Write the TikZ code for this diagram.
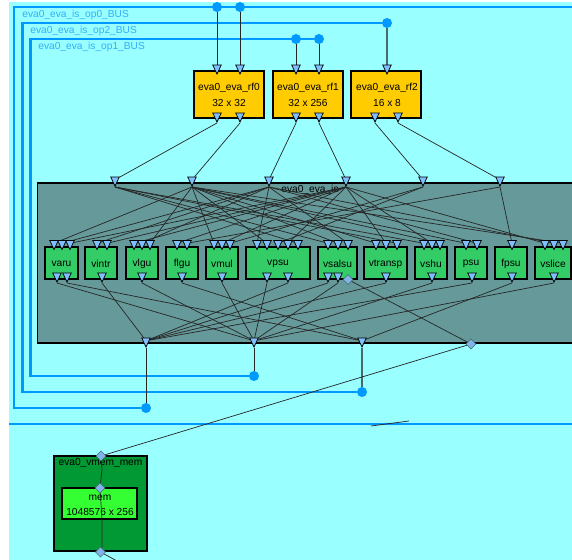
\documentclass[tikz,border=0pt]{standalone}
\usepackage{fontspec}
\setmainfont{Liberation Sans}
\usepackage{xcolor}
\usepackage{tikz}
\usetikzlibrary{arrows.meta, positioning, calc, shapes.geometric}
\definecolor{cyanbg}{HTML}{99FFFF}
\definecolor{busblue}{HTML}{0099FF}
\definecolor{isgrey}{HTML}{669999}
\definecolor{rfgold}{HTML}{FFCC00}
\definecolor{fugreen}{HTML}{33CC66}
\definecolor{memdark}{HTML}{009933}
\definecolor{memlight}{HTML}{33FF33}
\definecolor{portblue}{HTML}{80BFFF}
\pgfdeclarelayer{ports}
\pgfsetlayers{main,ports}
\tikzset{
  every node/.style={font=\fontsize{5.8}{7}\selectfont},
  bus/.style={busblue, line width=1.2pt},
  buslabel/.style={anchor=west, text=busblue!80!white, inner sep=0pt},
  tap/.style={circle, fill=busblue, inner sep=0pt, minimum size=0.2cm},
  wire/.style={black!85, line width=0.4pt},
  tealwire/.style={isgrey!70!black, line width=0.6pt},
  portdn/.style={isosceles triangle, isosceles triangle stretches, shape border rotate=-90,
    minimum width=0.17cm, minimum height=0.18cm, inner sep=0pt, anchor=apex,
    draw=black, line width=0.4pt, fill=portblue},
  portdia/.style={diamond, minimum width=0.2cm, minimum height=0.2cm, inner sep=0pt,
    draw=isgrey!70!black, line width=0.3pt, fill=portblue!85!gray},
  rfbox/.style={draw=black, fill=rfgold, line width=0.8pt},
  fubox/.style={draw=black, fill=fugreen, line width=0.8pt},
}
\begin{document}
\begin{tikzpicture}[x=0.02cm, y=-0.02cm]
  \useasboundingbox (0,0) rectangle (572,560);
  \clip (0,0) rectangle (572,560);
  \fill[cyanbg] (9,2) rectangle (572,560);
  % buses
  \begin{pgfonlayer}{ports}
    \foreach \tname/\tx/\ty in {ta/217/7, tb/240/7, tc/387/23, td/296/39, te/319/39, ua/146/408, ub/362/392, uc/254/376}
      \node[tap] (\tname) at (\tx,\ty) {};
  \end{pgfonlayer}
  \coordinate (busend) at (572,7);
  \coordinate (lineleft) at (9,424);
  \coordinate (lineright) at (572,424);
  \draw[bus] (ua) -- (14,408) -- (14,7) -- (busend);
  \draw[bus] (ub) -- (22.5,392) -- (22.5,23) -- (tc);
  \draw[bus] (uc) -- (30.5,376) -- (30.5,39) -- (te);
  \draw[bus] (lineleft) -- (lineright);
  \node[buslabel] (lblop0) at (22,14.5) {eva0\_eva\_is\_op0\_BUS};
  \node[buslabel] (lblop2) at (30,30.5) {eva0\_eva\_is\_op2\_BUS};
  \node[buslabel] (lblop1) at (38,46.5) {eva0\_eva\_is\_op1\_BUS};
  % register files
  \draw[rfbox] (194,71) rectangle (264,118);
  \draw[rfbox] (273,71) rectangle (343,118);
  \draw[rfbox] (351,71) rectangle (421,118);
  \node (rfa) at (229,88) {eva0\_eva\_rf0};
  \node (rfasize) at (229,103) {32 x 32};
  \node (rfb) at (308,88) {eva0\_eva\_rf1};
  \node (rfbsize) at (308,103) {32 x 256};
  \node (rfc) at (387,88) {eva0\_eva\_rf2};
  \node (rfcsize) at (387,103) {16 x 8};
  % instruction set box
  \draw[fill=isgrey, draw=black, line width=0.8pt] (37.5,183) rectangle (590,343);
  \node (islabel) at (310,190) {eva0\_eva\_is};
  % functional units
  \foreach \fname/\xa/\xb in {varu/45/78, vintr/85/117, vlgu/126/158, flgu/166/198, vmul/206/238,
      vpsu/246/310, vsalsu/318/357, vtransp/364/407, vshu/415/447, psu/455/487, fpsu/495/527, vslice/535/571}
    \draw[fubox] (\xa,247) rectangle (\xb,279) node[midway, yshift=-0.02cm] (\fname) {\fname};
  % memory
  \draw[draw=black, fill=memdark, line width=0.9pt] (54,456) rectangle (147,551);
  \node (memgroup) at (100.5,463) {eva0\_vmem\_mem};
  \draw[draw=black, fill=memlight, line width=0.8pt] (62,488) rectangle (137,519);
  \node (memname) at (100,498) {mem};
  \node (memsize) at (100,512) {1048576 x 256};
  % ports
  \begin{pgfonlayer}{ports}
    \foreach \pname/\px in {rfaa/217, rfab/240, rfba/296, rfbb/319, rfca/387}
      \node[portdn] (\pname) at (\px,75) {};
    \foreach \pname/\px in {rfay/217, rfaz/240, rfby/296, rfbz/319, rfcy/375, rfcz/398}
      \node[portdn] (\pname) at (\px,123) {};
    \foreach \pname/\px in {isa/115, isb/192, isc/269, isd/346, ise/423, isf/500}
      \node[portdn] (\pname) at (\px,187) {};
    \foreach \pname/\px in {varua/54, varub/62, varuc/70, vintra/97, vintrb/107, vlgua/134, vlgub/142, vlguc/150,
        flgua/177, flgub/187, vmula/214, vmulb/222, vmulc/230, vpsua/257, vpsub/267, vpsuc/278, vpsud/288, vpsue/298,
        vsalsua/328, vsalsub/338, vsalsuc/348, vtranspa/376, vtranspb/386, vtranspc/397, vshua/424, vshub/432, vshuc/440,
        psua/466, psub/477, fpsua/512, vslicea/545, vsliceb/554, vslicec/563}
      \node[portdn] (\pname) at (\px,250.5) {};
    \foreach \pname/\px in {varuy/57, varuz/67, vintry/102, vlguy/142, flguy/182, vmuly/222, vpsuy/267, vpsuz/288,
        vsalsuy/328, vsalsuz/338, vtranspy/386, vshuy/432, psuy/472, fpsuy/512, vslicey/554}
      \node[portdn] (\pname) at (\px,283) {};
    \foreach \pname/\px in {isy/146, isz/254, isx/362}
      \node[portdn] (\pname) at (\px,348) {};
    \node[portdia] (vsalsumem) at (348,279.5) {};
    \node[portdia] (ismem) at (471,344) {};
    \node[portdia] (memtop) at (101,456) {};
    \node[portdia] (memin) at (100,488) {};
    \node[portdia] (membot) at (100.5,552) {};
  \end{pgfonlayer}
  % bus taps to register files
  \foreach \a/\b in {ta/rfaa, tb/rfab, td/rfba, te/rfbb}
    \draw[wire] (\a) -- (\b);
  \draw[tealwire] (tc) -- (rfca);
  % register files to is
  \foreach \a/\b in {rfay/isa, rfaz/isb, rfby/isc, rfbz/isd, rfcy/ise, rfcz/isf}
    \draw[wire] (\a.apex) -- (\b);
  % is inputs to units
  \foreach \a/\b in {isb/varua, isc/varub, isd/varuc, isc/vintra, isd/vintrb, isd/vlgua, isc/vlgub, isb/vlguc,
      isd/flgua, isf/flgub, isb/vmula, isd/vmulb, ise/vmulc, isc/vpsua, isb/vpsub, ise/vpsuc, isd/vpsud, isa/vpsue,
      isa/vsalsua, isb/vsalsub, isc/vsalsuc, isb/vtranspa, isd/vtranspb, isa/vtranspc, isa/vshua, isd/vshub, isb/vshuc,
      isb/psua, isc/psub, isf/fpsua, isd/vslicea, isc/vsliceb, isb/vslicec}
    \draw[wire] (\a.apex) -- (\b);
  % units to is outputs
  \foreach \a/\b in {varuy/isz, varuz/isx, vintry/isy, vlguy/isz, flguy/isx, vmuly/isz, vpsuy/isz, vpsuz/isy,
      vsalsuy/isy, vsalsuz/isz, vtranspy/isy, vshuy/isz, psuy/isy, fpsuy/isx, vslicey/isz}
    \draw[wire] (\a.apex) -- (\b);
  \draw[wire] (vsalsumem) -- (ismem);
  % is outputs to buses
  \draw[wire] (isy.apex) -- (ua);
  \draw[wire] (isz.apex) -- (uc);
  \draw[tealwire] (isx.apex) -- (ub);
  % memory
  \coordinate (stuba) at (371,426);
  \coordinate (stubb) at (409,421);
  \coordinate (memexit) at (117,561);
  \draw[wire] (ismem) -- (memtop);
  \draw[wire] (stuba) -- (stubb);
  \draw[wire] (memtop) -- (102,470) -- (memin);
  \draw[wire] (memin) -- (102,519) -- (102,548) -- (membot);
  \draw[wire] (membot) -- (memexit);
\end{tikzpicture}
\end{document}
